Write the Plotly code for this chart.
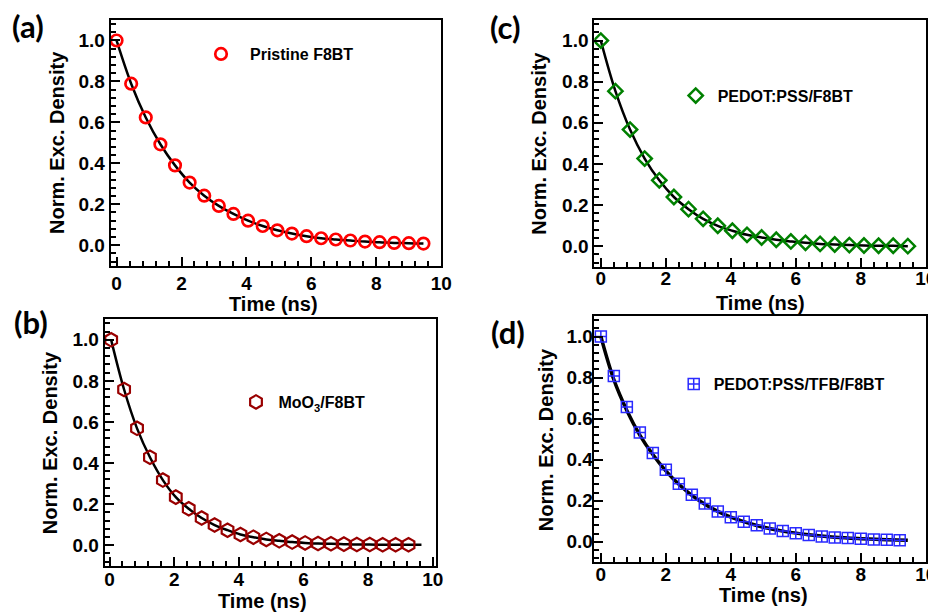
import plotly.graph_objects as go

# ---------------- data ----------------
# (a) Pristine F8BT
t_a = [0.0, 0.45, 0.9, 1.35, 1.8, 2.25, 2.7, 3.15, 3.6, 4.05, 4.5, 4.95, 5.4, 5.85,
       6.3, 6.75, 7.2, 7.65, 8.1, 8.55, 9.0, 9.45]
y_a = [1.0, 0.789, 0.624, 0.493, 0.390, 0.306, 0.242, 0.192, 0.153, 0.120, 0.094,
       0.073, 0.057, 0.044, 0.034, 0.028, 0.023, 0.018, 0.015, 0.011, 0.010, 0.008]
fit_t_a = t_a
fit_y_a = y_a

# (b) MoO3/F8BT
t_b = [0.05, 0.45, 0.85, 1.25, 1.65, 2.05, 2.45, 2.85, 3.25, 3.65, 4.05, 4.45, 4.85,
       5.25, 5.65, 6.05, 6.45, 6.85, 7.25, 7.65, 8.05, 8.45, 8.85, 9.25]
y_b = [1.0, 0.758, 0.569, 0.428, 0.317, 0.234, 0.177, 0.132, 0.098, 0.073, 0.052,
       0.039, 0.028, 0.021, 0.015, 0.011, 0.008, 0.007, 0.005, 0.003, 0.003, 0.002,
       0.002, 0.002]
fit_t_b = t_b + [9.65]
fit_y_b = y_b + [0.002]

# (c) PEDOT:PSS/F8BT
t_c = [0.0, 0.45, 0.9, 1.35, 1.8, 2.25, 2.7, 3.15, 3.6, 4.05, 4.5, 4.95, 5.4, 5.85,
       6.3, 6.75, 7.2, 7.65, 8.1, 8.55, 9.0, 9.45]
y_c = [1.0, 0.754, 0.567, 0.426, 0.320, 0.239, 0.180, 0.133, 0.099, 0.075, 0.055,
       0.042, 0.031, 0.023, 0.016, 0.011, 0.008, 0.005, 0.003, 0.002, 0.002, 0.0]
fit_t_c = t_c
fit_y_c = y_c

# (d) PEDOT:PSS/TFB/F8BT
t_d = [0.0, 0.4, 0.8, 1.2, 1.6, 2.0, 2.4, 2.8, 3.2, 3.6, 4.0, 4.4, 4.8, 5.2, 5.6,
       6.0, 6.4, 6.8, 7.2, 7.6, 8.0, 8.4, 8.8, 9.2]
y_d = [1.0, 0.808, 0.657, 0.533, 0.433, 0.351, 0.283, 0.229, 0.187, 0.148, 0.119,
       0.098, 0.080, 0.065, 0.052, 0.042, 0.033, 0.026, 0.021, 0.018, 0.015, 0.011,
       0.010, 0.008]
fit_t_d = [0.0, 0.4, 0.8, 1.2, 1.6, 2.0, 2.4, 2.8, 3.2, 3.6, 4.0, 4.8, 5.6, 6.4,
           7.2, 8.0, 8.8, 9.45]
fit_y_d = [1.0, 0.79, 0.64, 0.52, 0.425, 0.345, 0.28, 0.226, 0.183, 0.148, 0.12,
           0.079, 0.052, 0.034, 0.022, 0.015, 0.01, 0.007]

x_ticks = [0, 2, 4, 6, 8, 10]
y_ticks = [0.0, 0.2, 0.4, 0.6, 0.8, 1.0]

OFF = 8                      # default page body margin
W, H = 936, 615
ARIAL = "Arial, Liberation Sans, sans-serif"


def px(x):
    return (x - OFF) / W


def py(y):
    return 1 - (y - OFF) / H


panels = [
    dict(key="a", name="Pristine F8BT", t=t_a, y=y_a, ft=fit_t_a, fy=fit_y_a,
         symbol="circle-open", color="#ff0000", size=11.5, lw=2.7, fitw=2.5,
         xd=(110.7, 441.3), yd=(20, 265.7), xr=[-0.18, 10.0], xso=-1, yso=0,
         leg=(221, 54), iw=48, lab=(28, 26), yt=(57, 143), xt=(273, 304)),
    dict(key="b", name="MoO<sub>3</sub>/F8BT", t=t_b, y=y_b, ft=fit_t_b, fy=fit_y_b,
         symbol="hexagon-open", color="#990000", size=13.5, lw=2.2, fitw=2.5,
         xd=(104.7, 436.0), yd=(319.3, 565.7), xr=[-0.15, 10.1], xso=-5, yso=0,
         leg=(256, 402), iw=35, lab=(30.5, 322), yt=(49.7, 442.5), xt=(263, 601)),
    dict(key="c", name="PEDOT:PSS/F8BT", t=t_c, y=y_c, ft=fit_t_c, fy=fit_y_c,
         symbol="diamond-open", color="#008000", size=11, lw=2.5, fitw=2.5,
         xd=(594.3, 925.7), yd=(20, 266.7), xr=[-0.2, 10.0], xso=-7, yso=0,
         leg=(695.7, 95.7), iw=34, lab=(505, 27), yt=(539.5, 143.3), xt=(760, 303)),
    dict(key="d", name="PEDOT:PSS/TFB/F8BT", t=t_d, y=y_d, ft=fit_t_d, fy=fit_y_d,
         symbol="square-cross-open", color="#2a2aff", size=11, lw=1.5, fitw=3.5,
         xd=(593.7, 925.7), yd=(316, 562.3), xr=[-0.22, 10.0], xso=-6, yso=-5,
         leg=(693.7, 384), iw=30, lab=(508, 332.5), yt=(546.2, 440), xt=(763, 595)),
]

fig = go.Figure()
annotations = []
layout = {}

for i, p in enumerate(panels):
    n = "" if i == 0 else str(i + 1)
    xa, ya = "x" + n, "y" + n
    leg = "legend" + n

    fig.add_trace(go.Scatter(
        x=p["ft"], y=p["fy"], mode="lines",
        line=dict(color="black", width=p["fitw"], shape="spline"),
        xaxis=xa, yaxis=ya, showlegend=False, hoverinfo="skip"))
    fig.add_trace(go.Scatter(
        x=p["t"], y=p["y"], mode="markers", name=p["name"],
        marker=dict(symbol=p["symbol"], size=p["size"], color=p["color"],
                    line=dict(color=p["color"], width=p["lw"])),
        xaxis=xa, yaxis=ya, legend=leg, showlegend=True))

    axis_common = dict(showline=True, linecolor="black", linewidth=2, mirror=True,
                       ticks="inside", tickcolor="black", tickwidth=1.5,
                       showgrid=False, zeroline=False, automargin=False,
                       tickfont=dict(family=ARIAL, size=19, color="black", weight="bold"))
    layout["xaxis" + n] = dict(
        axis_common, domain=[px(p["xd"][0]), px(p["xd"][1])], range=p["xr"],
        anchor=ya, tickvals=x_ticks, ticklen=9, ticklabelstandoff=p["xso"],
        minor=dict(dtick=0.4, tick0=0, ticks="inside", ticklen=5,
                   tickcolor="black", tickwidth=1.5))
    layout["yaxis" + n] = dict(
        axis_common, domain=[py(p["yd"][1]), py(p["yd"][0])], range=[-0.1, 1.1],
        anchor=xa, tickvals=y_ticks, tickformat=".1f", ticklen=9,
        ticklabelstandoff=p["yso"],
        minor=dict(dtick=0.04, tick0=0, ticks="inside", ticklen=5,
                   tickcolor="black", tickwidth=1.5))
    layout[leg] = dict(
        x=px(p["leg"][0] - p["iw"] / 2 - 5), y=py(p["leg"][1]),
        xanchor="left", yanchor="middle", itemwidth=p["iw"],
        bgcolor="rgba(0,0,0,0)", borderwidth=0,
        font=dict(family=ARIAL, size=16, color="black", weight="bold"))

    annotations.append(dict(
        text="(" + p["key"] + ")", x=px(p["lab"][0]), y=py(p["lab"][1]),
        xref="paper", yref="paper", showarrow=False, xanchor="center", yanchor="middle",
        font=dict(family="Lato, Open Sans, sans-serif", size=31, color="black", weight="bold")))
    annotations.append(dict(
        text="Norm. Exc. Density", x=px(p["yt"][0]), y=py(p["yt"][1]), textangle=-90,
        xref="paper", yref="paper", showarrow=False, xanchor="center", yanchor="middle",
        font=dict(family=ARIAL, size=20, color="black", weight="bold")))
    annotations.append(dict(
        text="Time (ns)", x=px(p["xt"][0]), y=py(p["xt"][1]),
        xref="paper", yref="paper", showarrow=False, xanchor="center", yanchor="middle",
        font=dict(family=ARIAL, size=20, color="black", weight="bold")))

fig.update_layout(
    width=W, height=H, margin=dict(l=0, r=0, t=0, b=0, autoexpand=False),
    paper_bgcolor="white", plot_bgcolor="white",
    annotations=annotations, **layout)

fig.write_html("out.html")
